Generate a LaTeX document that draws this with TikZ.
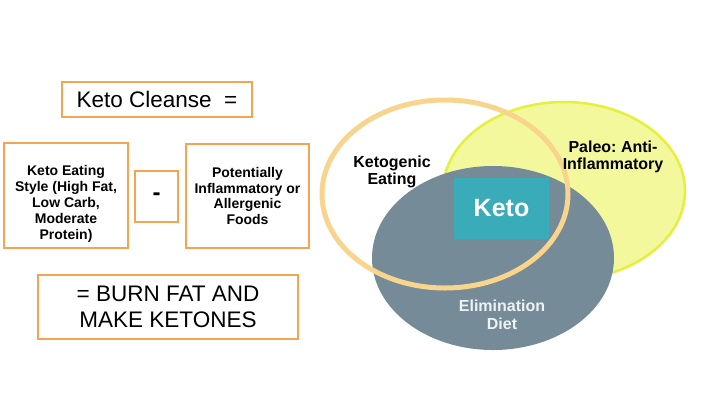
\documentclass[tikz,border=0pt]{standalone}
\usepackage{fontspec}
\setmainfont{Liberation Sans}
\usetikzlibrary{shadows}
\frenchspacing
\definecolor{boxorange}{HTML}{F2A553}
\definecolor{ringorange}{HTML}{F9D48C}
\definecolor{paleofill}{HTML}{F4F89C}
\definecolor{paleoline}{HTML}{E5F03A}
\definecolor{elimgrey}{HTML}{758B97}
\definecolor{ketoteal}{HTML}{3AABB8}
\definecolor{elimtext}{HTML}{EEF2F5}
\tikzset{
  obox/.style={draw=boxorange, line width=1.8pt, fill=white, align=center, inner sep=0pt,
    drop shadow={opacity=0.25, shadow xshift=1pt, shadow yshift=-1pt}},
  smalltext/.style={font=\bfseries\fontsize{14}{15.9}\selectfont, align=center, inner sep=0pt},
  venntext/.style={font=\bfseries\fontsize{16}{17.7}\selectfont, align=center},
}
\begin{document}
\begin{tikzpicture}[x={(1pt,0)}, y={(0,-1pt)}]
\useasboundingbox[fill=white] (0,0) rectangle (720,405);
% left side
\node[obox, minimum width=190pt, minimum height=35pt, font=\fontsize{22.5}{26}\selectfont] (cleanse) at (157,99.5) {Keto Cleanse\ \ =};
\node[obox, minimum width=124pt, minimum height=105pt] (style) at (66,195.5) {};
\node[smalltext] (styletext) at (66,204) {Keto Eating\\Style (High Fat,\\Low Carb,\\Moderate\\Protein)};
\node[obox, minimum width=43pt, minimum height=51pt, font=\bfseries\fontsize{24}{28}\selectfont] (minus) at (156.5,196.5) {-};
\node[obox, smalltext, minimum width=123pt, minimum height=104pt] (foods) at (247.5,196) {Potentially\\Inflammatory or\\Allergenic\\Foods};
\node[obox, minimum width=260pt, minimum height=64pt, font=\fontsize{22.5}{25.7}\selectfont] (burn) at (168,307) {= BURN FAT AND\\MAKE KETONES};
% venn
\path[fill=paleofill, draw=paleoline, line width=2.5pt] (564,191) ellipse [x radius=121, y radius=89];
\path[fill=elimgrey] (493,258) ellipse [x radius=121, y radius=92];
\path[draw=ringorange, line width=5pt] (445,194) ellipse [x radius=123, y radius=94];
\node[fill=ketoteal, minimum width=95pt, minimum height=61pt, text=white, font=\bfseries\fontsize{25}{28}\selectfont] (keto) at (501.5,208.5) {Keto};
\node[venntext] (ketogenic) at (392,172) {Ketogenic\\Eating};
\node[venntext] (paleo) at (613,157) {Paleo: Anti-\\Inflammatory};
\node[venntext, text=elimtext] (elim) at (502,314.5) {Elimination\\Diet};
\end{tikzpicture}
\end{document}
